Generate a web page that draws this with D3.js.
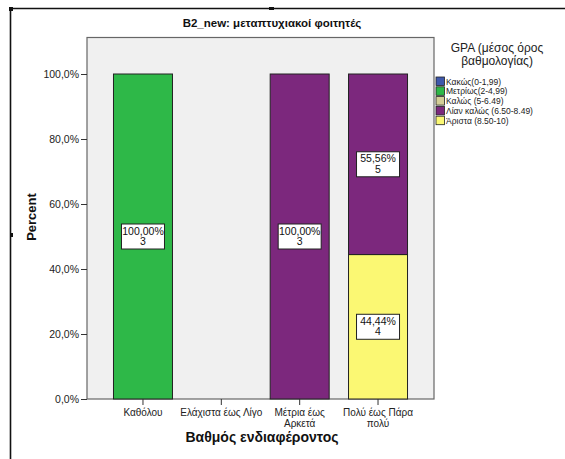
<!DOCTYPE html>
<html>
<head>
<meta charset="utf-8">
<script src="https://cdn.jsdelivr.net/npm/d3@7/dist/d3.min.js"></script>
<style>
  body { margin: 0; background: #fff; }
  svg { display: block; font-family: "Liberation Sans", Arial, sans-serif; }
</style>
</head>
<body>
<svg id="chart" width="565" height="459"></svg>
<script>
// Categories on the x axis (level of interest)
const categories = ["Καθόλου", "Ελάχιστα έως Λίγο", "Μέτρια έως Αρκετά", "Πολύ έως Πάρα πολύ"];
const categoryLines = [["Καθόλου"], ["Ελάχιστα έως Λίγο"], ["Μέτρια έως", "Αρκετά"], ["Πολύ έως Πάρα", "πολύ"]];

// GPA groups (legend order) and their colours
const gpaGroups = ["Κακώς(0-1,99)", "Μετρίως(2-4,99)", "Καλώς (5-6.49)", "Λίαν καλώς (6.50-8.49)", "Άριστα (8.50-10)"];
const gpaColors = ["#3e58ac", "#2eb848", "#d3ce97", "#7c287d", "#fbf873"];

// Student counts per category, one array per GPA group
const countsKakos   = [0, 0, 0, 0];
const countsMetrios = [3, 0, 0, 0];
const countsKalos   = [0, 0, 0, 0];
const countsLian    = [0, 0, 3, 5];
const countsArista  = [0, 0, 0, 4];
const countsByGroup = [countsKakos, countsMetrios, countsKalos, countsLian, countsArista];

const yTicks = [0, 20, 40, 60, 80, 100];

const svg = d3.select("#chart");

// Outer frame
svg.append("path").attr("d", "M10.5,459 V8.5 H565").attr("fill", "none").attr("stroke", "#111").attr("stroke-width", 1.6);
svg.append("rect").attr("x", 9).attr("y", 7).attr("width", 4).attr("height", 4).attr("fill", "#111");
svg.append("rect").attr("x", 269).attr("y", 7).attr("width", 5).attr("height", 3).attr("fill", "#111");
svg.append("rect").attr("x", 10).attr("y", 233).attr("width", 3).attr("height", 4).attr("fill", "#111");

// Plot geometry
const plotLeft = 87, plotRight = 434, plotTop = 37.5, plotBottom = 399;
const x = d3.scaleBand().domain(categories).range([plotLeft, plotRight]).paddingInner(0.247).paddingOuter(0.338);
const y = d3.scaleLinear().domain([0, 100]).range([plotBottom, 74]);

// Percentages per category
const totals = categories.map((c, i) => d3.sum(countsByGroup, g => g[i]));
const rows = categories.map((c, i) => {
  const r = { category: c };
  gpaGroups.forEach((g, k) => {
    r[g] = totals[i] ? countsByGroup[k][i] / totals[i] * 100 : 0;
    r[g + "_n"] = countsByGroup[k][i];
  });
  return r;
});

// Stack so that the last group sits at the bottom
const stack = d3.stack().keys(gpaGroups.slice().reverse());
const series = stack(rows);
const colorOf = d3.scaleOrdinal().domain(gpaGroups).range(gpaColors);

// Plot background
svg.append("rect").attr("x", plotLeft).attr("y", plotTop).attr("width", plotRight - plotLeft).attr("height", plotBottom - plotTop)
  .attr("fill", "#f0f0f0").attr("stroke", "#666").attr("stroke-width", 1.2);

// Bars
const layers = svg.append("g").selectAll("g").data(series).join("g").attr("fill", d => colorOf(d.key));
layers.selectAll("rect").data(d => d.filter(s => s[1] - s[0] > 0)).join("rect")
  .attr("x", d => x(d.data.category))
  .attr("width", x.bandwidth())
  .attr("y", d => y(d[1]))
  .attr("height", d => y(d[0]) - y(d[1]))
  .attr("stroke", "#222").attr("stroke-width", 1);

// Value labels
const fmtPct = v => d3.format(".2f")(v).replace(".", ",") + "%";
const labels = svg.append("g");
series.forEach(s => {
  s.forEach(d => {
    const v = d[1] - d[0];
    if (v <= 0) return;
    const cx = x(d.data.category) + x.bandwidth() / 2;
    const cy = y((d[0] + d[1]) / 2);
    const g = labels.append("g").attr("transform", `translate(${cx},${cy})`);
    g.append("rect").attr("x", -21.5).attr("y", -12.5).attr("width", 43).attr("height", 25)
      .attr("fill", "#fff").attr("stroke", "#222").attr("stroke-width", 1);
    g.append("text").attr("text-anchor", "middle").attr("y", -2).attr("font-size", 10.5).attr("fill", "#111").text(fmtPct(v));
    g.append("text").attr("text-anchor", "middle").attr("y", 8.5).attr("font-size", 10.5).attr("fill", "#111").text(d.data[s.key + "_n"]);
  });
});

// Y axis
const yAxis = svg.append("g").attr("transform", `translate(${plotLeft},0)`)
  .call(d3.axisLeft(y).tickValues(yTicks).tickSize(6).tickPadding(2).tickFormat(v => d3.format(".1f")(v).replace(".", ",") + "%"));
yAxis.select(".domain").remove();
yAxis.selectAll("line").attr("stroke", "#333");
yAxis.selectAll("text").attr("font-size", 10.5).attr("fill", "#222").attr("font-family", "Liberation Sans, Arial, sans-serif");

// X axis
const xAxis = svg.append("g").attr("transform", `translate(0,${plotBottom})`)
  .call(d3.axisBottom(x).tickSize(6).tickFormat(""));
xAxis.select(".domain").remove();
xAxis.selectAll("line").attr("stroke", "#333");
categories.forEach((c, i) => {
  const cx = x(c) + x.bandwidth() / 2;
  categoryLines[i].forEach((line, j) => {
    svg.append("text").attr("text-anchor", "middle").attr("font-size", 10).attr("fill", "#222")
      .attr("x", cx).attr("y", 416 + j * 10.5).text(line);
  });
});

// Titles
svg.append("text").attr("x", 272).attr("y", 27).attr("text-anchor", "middle")
  .attr("font-size", 11.5).attr("font-weight", "bold").attr("fill", "#111").text("B2_new: μεταπτυχιακοί φοιτητές");
svg.append("text").attr("transform", "translate(36,217) rotate(-90)").attr("text-anchor", "middle")
  .attr("font-size", 13).attr("font-weight", "bold").attr("fill", "#111").text("Percent");
svg.append("text").attr("x", 262).attr("y", 442).attr("text-anchor", "middle")
  .attr("font-size", 14).attr("font-weight", "bold").attr("fill", "#111").text("Βαθμός ενδιαφέροντος");

// Legend
const legend = svg.append("g");
legend.append("text").attr("x", 497).attr("y", 52).attr("text-anchor", "middle").attr("font-size", 12).attr("fill", "#222").text("GPA (μέσος όρος");
legend.append("text").attr("x", 497).attr("y", 65).attr("text-anchor", "middle").attr("font-size", 12).attr("fill", "#222").text("βαθμολογίας)");
gpaGroups.forEach((g, i) => {
  const yy = 77 + i * 9.8;
  legend.append("rect").attr("x", 436).attr("y", yy).attr("width", 8.5).attr("height", 8.5)
    .attr("fill", gpaColors[i]).attr("stroke", "#222").attr("stroke-width", 0.8);
  legend.append("text").attr("x", 446).attr("y", yy + 7.5).attr("font-size", 8.5).attr("fill", "#222").text(g);
});
</script>
</body>
</html>
